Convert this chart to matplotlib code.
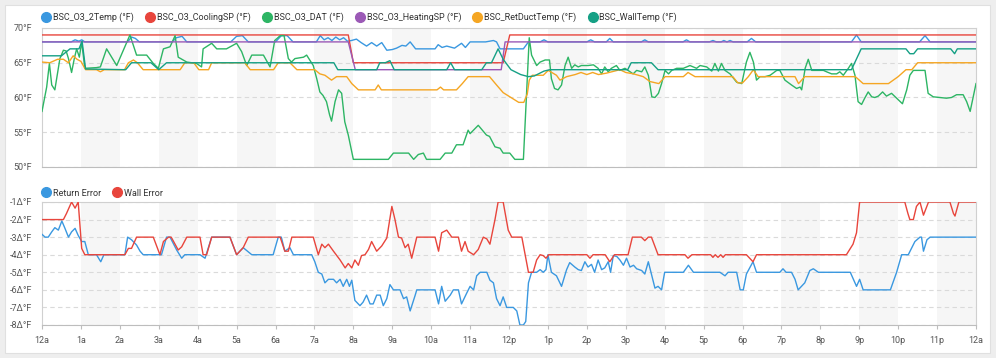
import matplotlib.pyplot as plt
from matplotlib.lines import Line2D
from matplotlib.patches import Rectangle

plt.rcParams['font.family'] = ['Roboto', 'DejaVu Sans']

# ---- data: (hour of day, value) ----
two_temp = [
    (0, 68), (0.75, 68), (0.85, 68.3), (0.95, 68.1), (1.02, 68.3), (1.1, 68),
    (2.2, 68), (2.3, 68.7), (2.4, 68.5), (2.5, 68),
    (3.35, 68), (3.45, 68.6), (3.6, 68.8), (3.72, 68),
    (4.85, 68), (5.0, 68.8), (5.15, 68.9), (5.3, 68),
    (6.0, 68), (6.15, 68.9), (6.3, 68.9), (6.45, 68),
    (7.05, 68), (7.15, 68.9), (7.25, 68.3), (7.35, 68.6), (7.45, 68.2),
    (7.55, 68.7), (7.65, 68.3), (7.75, 68.6), (7.85, 68.1), (7.95, 68.2),
    (8.08, 68.4), (8.2, 67.9), (8.34, 67.4), (8.47, 67.9), (8.6, 67.4),
    (8.73, 67.9), (8.86, 66.8), (9.0, 66.9), (9.11, 67.1), (9.25, 67.5),
    (9.35, 67.4), (9.46, 68), (9.6, 67), (9.88, 67), (10.1, 67), (10.18, 67.6),
    (10.28, 67.2), (10.4, 67.4), (10.6, 67.1), (10.78, 67.8), (10.88, 67.2),
    (11.0, 68), (11.4, 68), (11.6, 68.2), (11.68, 68), (11.77, 67),
    (12.37, 67), (12.5, 68), (12.8, 68), (12.9, 68.3), (13.0, 68),
    (14.0, 68), (14.1, 68.3), (14.2, 68), (14.5, 68), (14.59, 68.5), (14.68, 68),
    (15.4, 68), (15.49, 68.3), (15.58, 68), (16.47, 68), (16.56, 68.3), (16.65, 68),
    (17.15, 68), (17.24, 68.2), (17.33, 68), (17.45, 68), (17.52, 68.2),
    (17.6, 68), (17.68, 68.2), (17.76, 68), (18.12, 68), (18.23, 68.5),
    (18.34, 68), (20.8, 68), (20.93, 69), (21.05, 68),
    (22.55, 68), (22.69, 68.9), (22.82, 68), (24, 68),
]

cooling_sp = [(0, 69), (7.87, 69), (8.0, 65), (11.85, 65), (12.02, 69), (24, 69)]
heating_sp = [(0, 68), (7.87, 68), (8.05, 64), (11.8, 64), (11.9, 68), (24, 68)]

dat = [
    (0.0, 58.0), (0.12, 61.5), (0.19, 64.9), (0.25, 61.8), (0.33, 61.1),
    (0.46, 65.6), (0.55, 66.8), (0.62, 66.7), (0.68, 65.6), (0.76, 63.6),
    (0.83, 65.6), (0.89, 67.0), (0.96, 65.8), (1.02, 68.0), (1.1, 64.2),
    (1.4, 64.3), (1.5, 64.4), (1.66, 67.0), (1.92, 64.6), (2.26, 69.0),
    (2.43, 66.1), (2.69, 66.1), (2.86, 64.9), (2.99, 64.2), (3.12, 67.0),
    (3.29, 67.3), (3.42, 68.9), (3.5, 65.8), (3.72, 65.1), (3.97, 64.9),
    (4.1, 64.4), (4.14, 67.0), (4.36, 67.8), (4.49, 67.0), (4.74, 67.0),
    (5.0, 67.8), (5.13, 66.6), (5.26, 64.6), (5.39, 66.1), (5.69, 66.1),
    (5.86, 64.4), (5.98, 68.2), (6.12, 68.9), (6.22, 68.9), (6.33, 65.6),
    (6.41, 65.1), (6.5, 65.6), (6.72, 65.8), (6.8, 66.1), (6.97, 64.6),
    (7.06, 62.7), (7.14, 60.8), (7.22, 60.3), (7.31, 59.4), (7.39, 57.5),
    (7.44, 56.6), (7.53, 59.4), (7.62, 61.1), (7.7, 60.6), (7.78, 56.5),
    (7.87, 54.6), (8.0, 51.1), (8.9, 51.1), (9.03, 52.0), (9.42, 52.0),
    (9.55, 51.1), (9.67, 51.8), (9.8, 52.0), (9.88, 51.1), (10.23, 51.1),
    (10.36, 52.0), (10.53, 52.0), (10.65, 53.2), (10.82, 53.2), (10.95, 55.3),
    (11.0, 54.8), (11.21, 56.0), (11.42, 54.6), (11.5, 54.4), (11.64, 52.9),
    (11.77, 52.7), (11.85, 52.0), (12.02, 52.0), (12.15, 51.1), (12.37, 51.1),
    (12.52, 68.6), (12.58, 66.1), (12.71, 64.6), (12.8, 65.1), (12.93, 65.4),
    (13.04, 65.4), (13.09, 62.7), (13.17, 61.3), (13.26, 61.1), (13.35, 61.8),
    (13.44, 64.6), (13.52, 65.8), (13.61, 64.2), (13.69, 64.7), (13.78, 64.4),
    (13.86, 64.6), (14.03, 64.6), (14.17, 64.7), (14.29, 64.2), (14.38, 63.4),
    (14.46, 64.4), (14.55, 63.7), (14.63, 64.2), (14.76, 64.6), (14.85, 63.9),
    (14.98, 64.2), (15.11, 63.7), (15.19, 63.4), (15.28, 63.9), (15.41, 63.7),
    (15.49, 64.4), (15.58, 63.2), (15.67, 60.1), (15.75, 60.0), (15.84, 60.6),
    (15.92, 62.0), (16.01, 63.9), (16.1, 63.4), (16.18, 63.9), (16.31, 64.2),
    (16.48, 64.2), (16.65, 64.6), (16.82, 64.2), (16.91, 64.6), (17.08, 64.4),
    (17.21, 63.8), (17.29, 64.9), (17.38, 63.8), (17.46, 64.9), (17.55, 63.9),
    (17.68, 63.4), (17.85, 62.2), (17.98, 62.0), (18.1, 65.1), (18.19, 66.5),
    (18.28, 65.1), (18.36, 62.5), (18.45, 63.0), (18.58, 63.0), (18.71, 63.2),
    (18.88, 63.9), (18.96, 63.9), (19.09, 62.5), (19.26, 61.8), (19.39, 61.3),
    (19.48, 61.5), (19.52, 61.1), (19.61, 64.2), (19.69, 65.5), (19.78, 63.9),
    (20.08, 63.9), (20.16, 63.7), (20.29, 63.4), (20.42, 63.4), (20.5, 63.7),
    (20.59, 63.2), (20.72, 64.2), (20.8, 64.9), (20.89, 63.2), (20.97, 59.4),
    (21.06, 59.0), (21.14, 59.9), (21.23, 60.8), (21.32, 60.1), (21.4, 60.0),
    (21.49, 60.2), (21.6, 60.8), (21.7, 60.2), (21.83, 60.6), (21.96, 59.9),
    (22.11, 59.1), (22.22, 61.1), (22.3, 63.2), (22.39, 63.9), (22.69, 63.9),
    (22.77, 60.6), (22.9, 60.1), (23.07, 60.0), (23.24, 59.9), (23.37, 60.0),
    (23.5, 60.4), (23.67, 60.4), (23.76, 59.4), (23.85, 58.0), (24.0, 62.0),
]

ret_duct = [
    (0, 65.1), (0.2, 65.0), (0.4, 65.5), (0.55, 65.5), (0.68, 65.0), (0.8, 66.0),
    (0.9, 65.5), (1.0, 65.2), (1.12, 64.0), (1.4, 64.0), (1.5, 63.7), (1.6, 64.0),
    (2.12, 64.0), (2.22, 65.0), (2.35, 65.4), (2.45, 65.0), (2.6, 64.0),
    (3.55, 64.0), (3.67, 65.0), (3.9, 65.0), (4.03, 64.0), (4.28, 64.0),
    (4.36, 65.0), (5.21, 65.0), (5.35, 64.0), (5.95, 64.0), (6.07, 65.0),
    (6.37, 65.0), (6.55, 64.0), (7.01, 64.0), (7.14, 63.4), (7.27, 63.2),
    (7.44, 62.5), (7.57, 63.0), (7.83, 63.0), (7.96, 62.0), (8.13, 61.1),
    (8.56, 61.1), (8.64, 61.8), (8.72, 61.1), (10.15, 61.1), (10.24, 61.5),
    (10.32, 61.1), (10.65, 61.1), (10.8, 62.0), (10.95, 63.0), (11.5, 63.0),
    (11.68, 61.8), (11.85, 60.7), (12.05, 60.0), (12.25, 59.3), (12.38, 59.3),
    (12.47, 60.5), (12.52, 62.5), (12.6, 63.2), (12.88, 63.2), (13.01, 63.9),
    (13.22, 63.2), (13.31, 62.5), (13.48, 63.0), (13.7, 63.3), (13.85, 63.6),
    (14.0, 63.3), (14.15, 63.6), (14.3, 63.3), (14.5, 63.5), (14.85, 64.0),
    (15.0, 63.6), (15.2, 63.4), (15.45, 63.0), (15.62, 62.3), (15.85, 62.0),
    (16.01, 63.0), (16.48, 63.0), (16.6, 63.6), (16.78, 63.0), (17.75, 63.0),
    (17.88, 62.1), (18.0, 62.1), (18.15, 63.0), (18.28, 64.0), (18.4, 63.0),
    (19.35, 63.0), (19.44, 62.0), (19.6, 63.0), (20.9, 63.0), (21.1, 62.0),
    (21.75, 62.0), (22.0, 63.0), (22.2, 64.0), (22.35, 64.0), (22.5, 65.0),
    (24, 65.0),
]

wall_temp = [
    (0, 66), (0.5, 66), (0.72, 67), (0.95, 67), (1.03, 68.1), (1.12, 64.1),
    (2.15, 64), (2.3, 65), (2.8, 65), (3.0, 64), (3.2, 65), (7.5, 65), (7.6, 64),
    (8.6, 64), (8.68, 65), (8.82, 65), (8.94, 65.3), (9.05, 64), (10.4, 64),
    (10.5, 65), (10.6, 64), (11.3, 64), (11.42, 65), (11.55, 65), (11.72, 67),
    (11.85, 65.5), (12.05, 64), (12.3, 63.3), (12.5, 63.0), (12.65, 63.1),
    (12.9, 63.8), (13.05, 64), (15.05, 64), (15.14, 65), (15.66, 65), (15.83, 64),
    (20.8, 64), (21.05, 67), (22.2, 67), (22.3, 66.3), (22.4, 66.3), (22.5, 67),
    (23.35, 67), (23.45, 66.3), (23.52, 67), (24, 67),
]

return_error = [
    (0, -2.84), (0.08, -3.0), (0.16, -3.0), (0.25, -2.7), (0.33, -2.46),
    (0.42, -2.6), (0.51, -2.08), (0.59, -2.5), (0.68, -3.0), (0.76, -2.7),
    (0.85, -2.5), (0.93, -2.9), (1.02, -3.25), (1.1, -3.25), (1.19, -4.0),
    (1.4, -4.0), (1.51, -4.4), (1.59, -4.0), (2.13, -4.0), (2.2, -3.0),
    (2.3, -3.15), (2.43, -3.45), (2.52, -3.8), (2.6, -4.0), (3.07, -4.0),
    (3.2, -3.0), (3.29, -3.0), (3.46, -3.73), (3.59, -4.2), (3.67, -4.0),
    (4.06, -4.0), (4.19, -4.2), (4.36, -3.0), (4.83, -3.0), (5.0, -4.0),
    (5.17, -3.6), (5.39, -4.0), (5.94, -4.0), (6.07, -3.0), (6.15, -3.0),
    (6.24, -3.8), (6.37, -3.6), (6.46, -4.0), (6.93, -4.0), (7.01, -4.4),
    (7.1, -5.0), (7.19, -5.1), (7.27, -5.6), (7.36, -5.4), (7.49, -5.4),
    (7.57, -5.6), (7.66, -5.4), (7.74, -5.8), (7.83, -5.4), (7.9, -5.8),
    (7.96, -5.45), (8.04, -6.6), (8.17, -6.9), (8.25, -6.7), (8.34, -6.3),
    (8.43, -6.8), (8.51, -6.8), (8.6, -6.3), (8.69, -6.3), (8.77, -6.9),
    (8.86, -6.5), (8.94, -5.7), (9.03, -6.0), (9.2, -6.0), (9.29, -6.5),
    (9.37, -6.4), (9.46, -7.2), (9.59, -6.3), (9.63, -6.0), (10.1, -6.0),
    (10.19, -6.8), (10.27, -5.8), (10.36, -6.65), (10.49, -6.3), (10.57, -6.0),
    (10.7, -6.0), (10.78, -6.8), (10.91, -6.2), (11.0, -5.8), (11.09, -6.0),
    (11.17, -5.2), (11.26, -5.0), (11.43, -5.0), (11.51, -5.45), (11.6, -5.6),
    (11.68, -6.5), (11.77, -6.9), (11.85, -6.4), (11.94, -7.0), (12.11, -7.0),
    (12.2, -7.2), (12.28, -8.0), (12.37, -8.0), (12.43, -7.8), (12.5, -5.6),
    (12.58, -5.0), (12.71, -5.0), (12.8, -4.85), (12.88, -5.0), (12.95, -4.85),
    (13.0, -4.0), (13.09, -5.0), (13.22, -5.2), (13.35, -5.8), (13.48, -4.85),
    (13.56, -4.45), (13.69, -4.7), (13.78, -4.85), (13.86, -4.9), (13.95, -4.4),
    (14.03, -4.7), (14.12, -4.55), (14.2, -5.0), (14.29, -4.3), (14.38, -4.85),
    (14.46, -4.75), (14.55, -4.4), (14.61, -5.0), (14.68, -4.05), (14.77, -4.1),
    (14.85, -4.3), (14.94, -4.6), (15.02, -4.2), (15.11, -4.7), (15.2, -4.6),
    (15.28, -4.8), (15.41, -4.9), (15.49, -5.1), (15.58, -4.4), (15.66, -5.1),
    (15.75, -5.9), (15.83, -5.8), (15.92, -6.0), (16.0, -5.0), (16.48, -5.0),
    (16.61, -4.6), (16.74, -5.0), (17.42, -5.0), (17.55, -5.2), (17.63, -5.0),
    (17.85, -5.0), (17.94, -6.0), (18.02, -6.0), (18.1, -5.1), (18.27, -4.4),
    (18.36, -5.0), (18.96, -5.0), (19.04, -4.8), (19.12, -5.0), (19.26, -5.0),
    (19.35, -5.4), (19.43, -6.0), (19.6, -5.6), (19.73, -4.9), (19.82, -4.8),
    (19.95, -5.0), (20.77, -5.0), (20.93, -5.8), (21.01, -5.4), (21.1, -6.0),
    (21.8, -6.0), (21.96, -5.0), (22.09, -4.0), (22.26, -4.0), (22.43, -3.25),
    (22.56, -3.0), (22.6, -3.0), (22.65, -3.8), (22.74, -3.15), (22.82, -3.0),
    (24, -3.0),
]

wall_error = [
    (0, -2), (0.55, -2), (0.63, -1.65), (0.76, -1), (0.85, -1.35), (0.93, -1),
    (1.02, -3.64), (1.1, -4), (2.13, -4), (2.22, -3.64), (2.3, -3.64), (2.43, -3),
    (2.86, -3), (3.03, -4), (3.12, -3.25), (3.25, -3), (3.32, -3), (3.5, -3.73),
    (3.59, -3.55), (3.72, -3), (4.06, -3), (4.14, -4), (4.23, -4), (4.36, -3),
    (4.83, -3), (5.0, -4), (5.17, -3.6), (5.3, -3), (6.03, -3), (6.12, -3),
    (6.24, -3.8), (6.33, -3.8), (6.42, -3), (6.97, -3), (7.1, -4), (7.19, -3.4),
    (7.27, -3.6), (7.36, -3.4), (7.49, -3.8), (7.66, -4.3), (7.79, -4.75),
    (7.87, -4.5), (7.96, -4.75), (8.04, -4.3), (8.13, -4.6), (8.21, -4.05),
    (8.3, -4.0), (8.39, -3.7), (8.47, -3.25), (8.6, -3.8), (8.73, -3.5),
    (8.86, -3.05), (8.99, -1.25), (9.07, -2.0), (9.16, -3.0), (9.24, -3.05),
    (9.33, -3.6), (9.41, -3.4), (9.5, -4.2), (9.63, -3.0), (10.1, -3.0),
    (10.19, -3.8), (10.27, -2.75), (10.4, -2.6), (10.53, -3.0), (10.7, -3.0),
    (10.78, -3.8), (10.87, -3.25), (10.95, -3.8), (11.09, -4.0), (11.21, -3.7),
    (11.34, -3.0), (11.43, -3.1), (11.51, -3.4), (11.64, -2.0), (11.72, -1.0),
    (11.85, -1.0), (11.98, -2.6), (12.07, -3.0), (12.33, -3.0), (12.5, -5.0),
    (12.62, -5.0), (12.71, -4.3), (12.8, -4.0), (12.88, -4.05), (12.95, -4.2),
    (13.02, -4.0), (14.0, -4.0), (14.08, -4.2), (14.16, -4.0), (14.47, -4.0),
    (14.59, -4.4), (14.71, -4.0), (15.06, -4.0), (15.17, -3.0), (15.4, -3.0),
    (15.49, -3.2), (15.58, -3.0), (15.66, -3.0), (15.83, -4.0), (16.52, -4.0),
    (16.6, -4.2), (16.7, -4.0), (17.18, -4.0), (17.24, -4.15), (17.3, -4.0),
    (17.37, -4.15), (17.44, -4.0), (17.5, -4.15), (17.56, -4.0), (18.1, -4.0),
    (18.27, -4.4), (18.36, -4.0), (20.67, -4.0), (20.84, -3.4), (20.93, -2.75),
    (21.01, -1.0), (22.17, -1.0), (22.25, -1.65), (22.3, -2.0), (22.39, -2.0),
    (22.47, -1.25), (22.56, -1.0), (22.65, -1.75), (22.78, -1.0), (23.33, -1.0),
    (23.42, -1.65), (23.46, -1.8), (23.56, -1.0), (24, -1.0),
]

hour_labels = ["12a"] + [f"{h}a" for h in range(1, 12)] + ["12p"] + \
    [f"{h}p" for h in range(1, 12)] + ["12a"]

top_series = [
    ("BSC_O3_2Temp (°F)", two_temp, "#3a98e0"),
    ("BSC_O3_CoolingSP (°F)", cooling_sp, "#e8453c"),
    ("BSC_O3_DAT (°F)", dat, "#2db564"),
    ("BSC_O3_HeatingSP (°F)", heating_sp, "#9b59b6"),
    ("BSC_RetDuctTemp (°F)", ret_duct, "#f5a623"),
    ("BSC_WallTemp (°F)", wall_temp, "#15a085"),
]
bottom_series = [
    ("Return Error", return_error, "#3a98e0"),
    ("Wall Error", wall_error, "#e8453c"),
]

W, H = 996, 358
fig = plt.figure(figsize=(W / 100, H / 100), dpi=100, facecolor="#eeeeee")
fig.patches.append(Rectangle((5 / W, 5 / H), 985 / W, 348 / H, transform=fig.transFigure,
                             facecolor="white", edgecolor="#e0e0e0", lw=0.8, zorder=-5))

ax1 = fig.add_axes([42 / W, 1 - 167 / H, 934 / W, 139 / H])
ax2 = fig.add_axes([42 / W, 1 - 325 / H, 934 / W, 123 / H])


def style(ax):
    ax.set_facecolor("none")
    ax.set_xlim(0, 24)
    for h in range(1, 24, 2):
        ax.axvspan(h, h + 1, color="#f6f6f6", lw=0, zorder=0)
    ax.yaxis.grid(True, ls=(0, (4, 3)), color="#dadada", lw=0.8, zorder=1)
    for s in ax.spines.values():
        s.set_color("#d0d0d0")
        s.set_linewidth(0.8)
    ax.spines["bottom"].set_color("#bdbdbd")
    ax.tick_params(axis="y", length=0, pad=7, labelsize=6.5, labelcolor="#555555")
    ax.set_xticks(range(25))


style(ax1)
style(ax2)

for name, pts, c in top_series:
    ax1.plot([p[0] for p in pts], [p[1] for p in pts], color=c, lw=1.0, zorder=3)
ax1.set_ylim(50, 70)
ax1.set_yticks([50, 55, 60, 65, 70])
ax1.set_yticklabels([f"{v}°F" for v in [50, 55, 60, 65, 70]])
ax1.tick_params(axis="x", length=0, labelbottom=False)

for name, pts, c in bottom_series:
    ax2.plot([p[0] for p in pts], [p[1] for p in pts], color=c, lw=1.0, zorder=3)
ax2.set_ylim(-8, -1)
ax2.set_yticks(range(-8, 0))
ax2.set_yticklabels([f"{v}Δ°F" for v in range(-8, 0)])
ax2.set_xticklabels(hour_labels)
ax2.tick_params(axis="x", length=3, color="#bdbdbd", pad=5, labelsize=6.5, labelcolor="#555555")


def legend(series, y):
    handles = [Line2D([], [], ls="", marker="o", ms=7, color=c) for _, _, c in series]
    fig.legend(handles, [n for n, _, _ in series], loc="center left",
               bbox_to_anchor=(42 / W, 1 - y / H), ncol=len(series), frameon=False,
               fontsize=6.5, handlelength=0.9, handletextpad=0.3, columnspacing=1.35,
               borderaxespad=0, borderpad=0, labelcolor="#333333")


legend(top_series, 17)
legend(bottom_series, 193)

fig.savefig("out.png", dpi=100, facecolor=fig.get_facecolor())
